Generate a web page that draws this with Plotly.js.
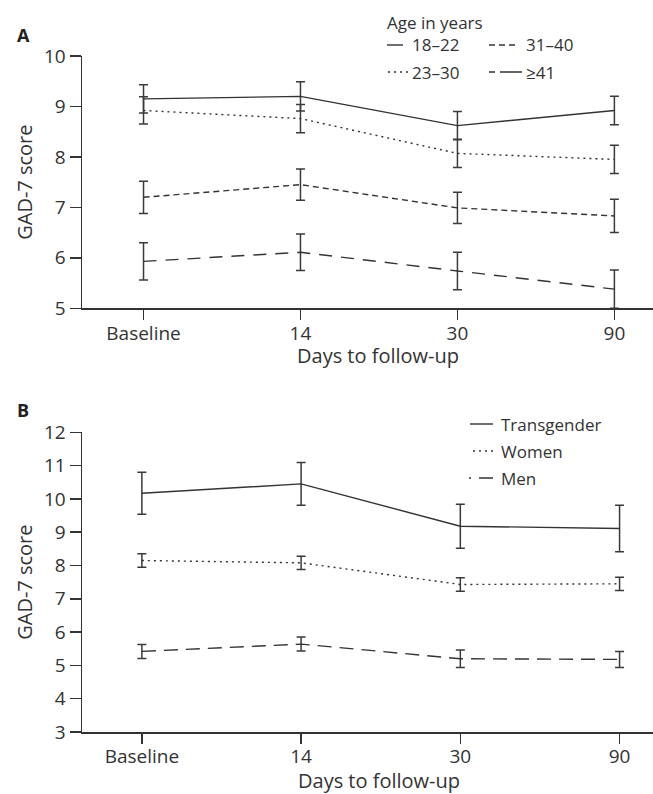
<!DOCTYPE html>
<html>
<head>
<meta charset="utf-8">
<script src="https://cdn.plot.ly/plotly-3.0.1.min.js"></script>
<style>html,body{margin:0;padding:0;background:#fff;}</style>
</head>
<body>
<div id="chart" style="width:653px;height:794px;"></div>
<script>
// ---- data ----
const categories = ['Baseline', '14', '30', '90'];

const ageLabels = ['18\u201322', '23\u201330', '31\u201340', '\u226541'];
const age18_22 = [9.15, 9.20, 8.62, 8.92];
const age18_22Err = [0.28, 0.29, 0.28, 0.28];
const age23_30 = [8.92, 8.76, 8.07, 7.95];
const age23_30Err = [0.27, 0.28, 0.28, 0.28];
const age31_40 = [7.20, 7.45, 6.99, 6.83];
const age31_40Err = [0.32, 0.31, 0.31, 0.33];
const age41 = [5.93, 6.11, 5.74, 5.38];
const age41Err = [0.37, 0.36, 0.37, 0.38];

const genderLabels = ['Transgender', 'Women', 'Men'];
const transgender = [10.17, 10.45, 9.18, 9.11];
const transgenderErr = [0.63, 0.64, 0.66, 0.70];
const women = [8.15, 8.08, 7.43, 7.45];
const womenErr = [0.20, 0.20, 0.20, 0.20];
const men = [5.42, 5.64, 5.20, 5.18];
const menErr = [0.21, 0.21, 0.26, 0.24];

const yTicksA = [5, 6, 7, 8, 9, 10];
const yTicksB = [3, 4, 5, 6, 7, 8, 9, 10, 11, 12];
const xTitle = 'Days to follow-up';
const yTitle = 'GAD-7 score';

// ---- styling ----
const INK = '#333333';
const FONT = 'Open Sans, Noto Sans, sans-serif';
const DASH = {
  solid: 'solid',
  dot: '2px,4px',
  short: '6px,4px',
  long: '13px,9px'
};

function trace(y, err, dash, xa, ya, name) {
  return {
    type: 'scatter', mode: 'lines', name: name,
    x: categories, y: y, xaxis: xa, yaxis: ya,
    line: {color: INK, width: 1.4, dash: dash},
    error_y: {type: 'data', array: err, visible: true, color: '#3a3a3a', thickness: 1.5, width: 4.5},
    showlegend: false, hoverinfo: 'skip'
  };
}

const data = [
  trace(age18_22, age18_22Err, DASH.solid, 'x', 'y', ageLabels[0]),
  trace(age23_30, age23_30Err, DASH.dot, 'x', 'y', ageLabels[1]),
  trace(age31_40, age31_40Err, DASH.short, 'x', 'y', ageLabels[2]),
  trace(age41, age41Err, DASH.long, 'x', 'y', ageLabels[3]),
  trace(transgender, transgenderErr, DASH.solid, 'x2', 'y2', genderLabels[0]),
  trace(women, womenErr, DASH.dot, 'x2', 'y2', genderLabels[1]),
  trace(men, menErr, '14px,8px', 'x2', 'y2', genderLabels[2])
];

// page geometry
const W = 653, H = 794, ML = 82, MR = 0, MT = 56, MB = 62;
const PW = W - ML - MR, PH = H - MT - MB;
const px = x => (x - ML) / PW;
const py = y => 1 - (y - MT) / PH;
const SHIFT = 7; // panel B moved up slightly so its axis title fits on the page

function xAxis(anchor, range) {
  return {
    anchor: anchor, domain: [0, 1], type: 'category', range: range,
    tickvals: categories, ticktext: categories,
    showline: true, linecolor: INK, linewidth: 1.5,
    ticks: 'outside', ticklen: 10, tickwidth: 1.5, tickcolor: INK,
    ticklabelstandoff: -3,
    showgrid: false, zeroline: false,
    tickfont: {family: FONT, size: 19, color: INK}
  };
}
function yAxis(anchor, domain, range, ticks) {
  return {
    anchor: anchor, domain: domain, range: range,
    tickvals: ticks, ticktext: ticks.map(String),
    showline: true, linecolor: INK, linewidth: 1.5,
    ticks: 'outside', ticklen: 11, tickwidth: 1.5, tickcolor: INK,
    showgrid: false, zeroline: false,
    tickfont: {family: FONT, size: 19, color: INK},
    title: {text: yTitle, font: {family: FONT, size: 20, color: INK}, standoff: 6}
  };
}

const domA = [py(308.3), 1];
const domB = [0, py(439.3 - SHIFT)];

const annFont = {family: FONT, size: 17, color: INK};
function label(text, x, y, extra) {
  return Object.assign({text: text, xref: 'paper', yref: 'paper', x: px(x), y: py(y),
    xanchor: 'left', yanchor: 'middle', showarrow: false, font: annFont}, extra || {});
}
function sample(x0, x1, y, dash) {
  return {type: 'line', xref: 'paper', yref: 'paper', x0: px(x0), x1: px(x1), y0: py(y), y1: py(y),
    line: {color: INK, width: 1.4, dash: dash}};
}

const titleFont = {family: FONT, size: 20, color: INK};
const annotations = [
  label('<b>A</b>', 15, 35, {font: {family: FONT, size: 18, color: '#222'}}),
  label('<b>B</b>', 15, 417 - SHIFT, {font: {family: FONT, size: 18, color: '#222'}}),
  label(xTitle, 378, 355, {xanchor: 'center', font: titleFont}),
  label(xTitle, 379, 780, {xanchor: 'center', font: titleFont}),
  label('Age in years', 385, 22),
  label(ageLabels[0], 410, 45),
  label(ageLabels[2], 524, 45),
  label(ageLabels[1], 410, 72),
  label(ageLabels[3], 524, 72),
  label(genderLabels[0], 499, 431 - SHIFT),
  label(genderLabels[1], 499, 458 - SHIFT),
  label(genderLabels[2], 499, 485 - SHIFT)
];

const shapes = [
  sample(387, 403, 45, DASH.solid),
  sample(489, 517, 45, DASH.short),
  sample(388, 408, 72, DASH.dot),
  sample(489, 522, 72, '6px,5px,22px'),
  sample(470, 493, 431 - SHIFT, DASH.solid),
  sample(473, 493, 458 - SHIFT, DASH.dot),
  sample(469, 493, 485 - SHIFT, '2px,8px,14px')
];

const layout = {
  width: W, height: H,
  margin: {l: ML, r: MR, t: MT, b: MB, pad: 0},
  paper_bgcolor: '#fff', plot_bgcolor: '#fff',
  showlegend: false,
  font: {family: FONT, color: INK},
  xaxis: xAxis('y', [-0.392, 3.246]),
  yaxis: yAxis('x', domA, [5, 10], yTicksA),
  xaxis2: xAxis('y2', [-0.376, 3.21]),
  yaxis2: yAxis('x2', domB, [3, 12], yTicksB),
  annotations: annotations,
  shapes: shapes
};

Plotly.newPlot('chart', data, layout, {staticPlot: true, displayModeBar: false});
</script>
</body>
</html>
